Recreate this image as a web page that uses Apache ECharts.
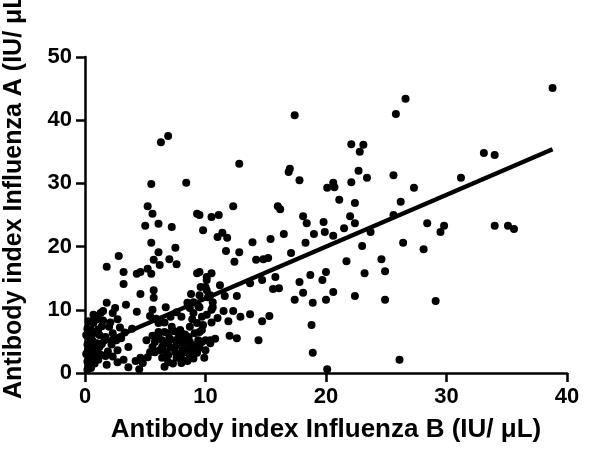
<!DOCTYPE html>
<html>
<head>
<meta charset="utf-8">
<script src="https://cdn.jsdelivr.net/npm/echarts@6/dist/echarts.min.js"></script>
<style>html,body{margin:0;padding:0;background:#fff}#c{width:600px;height:454px}</style>
</head>
<body>
<div id="c"></div>
<script>
// Antibody index Influenza B (x) vs Influenza A (y)
const pointsX = [
6.3,6.9,5.5,8.4,
17.4,12.8,22.1,23.1,22.8,17.0,16.9,17.8,22.7,23.4,20.1,20.6,20.7,22.1,21.1,22.4,12.3,16.0,16.2,
26.6,25.8,38.8,33.1,34.0,25.6,31.2,27.3,26.2,
25.6,23.7,28.4,29.8,29.5,34.0,35.1,35.6,26.4,28.1,24.6,24.9,24.9,29.1,26.1,
9.5,10.5,11.1,9.8,11.0,11.4,11.8,13.9,15.4,16.5,18.1,18.4,19.8,19.0,19.9,20.6,21.5,22.0,22.4,18.3,23.0,11.7,12.8,12.4,14.2,14.8,15.2,17.1,21.7,
9.5,10.1,10.5,23.2,20.0,18.7,19.7,17.8,15.8,13.7,14.7,15.6,16.1,11.2,10.0,12.6,11.6,10.4,10.6,17.4,18.1,20.0,20.6,22.4,18.9,9.5,10.1,11.5,12.3,11.0,11.9,12.9,13.7,14.7,15.3,9.8,9.5,10.0,10.4,10.8,12.0,12.6,14.4,18.8,18.9,20.1,
5.2,5.6,5.0,6.1,7.2,9.3,5.5,6.1,7.5,2.8,5.7,7.0,6.2,7.6,1.8,3.2,4.3,4.6,5.2,5.5,3.2,9.3,10.1,9.6,
4.6,5.7,5.7,6.7,4.3,5.4,1.8,1.5,0.8,2.3,2.7,0.7,1.4,2.0,0.7,1.2,1.7,2.3,1.0,0.4,0.2,0.4,0.4,0.2,0.8,0.6,2.7,3.6,1.8,2.7,3.2,3.6,4.2,4.6,4.8,4.5,5.6,5.8,6.1,6.6,7.2,5.2,5.8,6.4,6.9,7.5,8.1,8.6,9.1,9.7,6.4,6.9,7.5,8.1,8.6,9.1,9.7,6.9,7.6,8.1,8.7,9.3,7.6,8.1,8.7,6.1,7.9,8.7,9.3,9.7,9.0,8.7,9.0,9.5,10.1,8.5,5.6,5.1,1.2,1.1,1.7,
0.1,0.3,0.2,0.5,0.3,0.6,0.4,0.1,0.2,0.9,1.3,0.7,1.3,2.6,1.6,2.2,3.0,0.3,1.0,
8.8,5.6,6.1,7.1,8.0,10.2,10.5,10.5,10.4,6.9,8.0,6.4,9.4,8.0,10.0,10.6,
0.2,0.5,0.8,1.0,1.4,1.9,2.3,0.5,1.1,1.5,2.1,2.9,3.3,3.9,2.5,3.4,
5.4,6.2,6.7,7.1,7.9,8.4,8.9,9.5,7.3,8.5,9.0,6.6,9.9,7.8,8.3,7.0,7.4,8.9,6.6,7.6,5.9,9.4
];
const pointsY = [
36.5,37.5,29.9,30.1,
40.8,33.1,36.2,36.1,35.0,32.3,31.8,30.5,32.0,30.9,29.3,30.1,29.4,30.2,27.4,26.9,26.4,26.4,25.9,
43.4,41.0,45.1,34.8,34.5,31.3,30.9,29.3,27.1,
25.0,22.3,23.7,23.3,22.3,23.3,23.3,22.8,20.6,19.6,18.0,16.1,11.6,11.4,2.1,
25.0,24.7,25.0,22.6,21.5,22.2,21.4,20.7,21.2,22.0,24.8,23.7,23.9,22.0,22.3,21.7,22.9,24.8,23.7,20.6,20.1,19.3,19.1,17.6,17.9,18.0,18.2,19.0,17.7,
16.0,15.2,15.8,15.8,16.0,15.5,14.7,14.4,15.2,14.2,14.7,13.3,13.4,13.9,13.6,12.2,12.2,12.3,11.2,11.6,12.7,11.6,12.8,12.2,11.1,10.4,9.2,9.8,9.8,8.7,8.2,8.9,9.3,8.2,9.0,7.6,6.5,5.2,4.7,5.4,5.9,5.5,5.2,7.6,3.2,0.6,
26.4,25.2,23.3,23.6,23.1,25.2,20.6,19.1,19.8,18.5,17.9,18.0,17.1,17.2,16.8,16.0,15.7,16.0,16.5,15.7,14.1,15.8,14.7,13.6,
12.5,13.1,11.9,10.4,9.7,9.0,11.1,9.8,9.0,9.5,8.5,7.9,7.4,7.3,6.3,6.0,5.7,6.3,4.7,4.1,3.3,2.4,1.3,0.5,2.8,5.2,3.6,4.1,1.3,1.7,2.1,0.9,1.9,2.4,1.6,0.6,4.1,4.9,5.7,6.5,7.3,2.5,3.3,4.1,4.7,5.2,5.5,5.7,6.3,6.8,2.4,2.8,3.3,3.6,4.0,4.4,4.9,1.7,2.4,2.1,2.8,3.2,4.4,4.7,4.9,6.5,6.8,7.3,7.9,8.9,9.5,10.3,11.2,12.3,13.1,11.1,5.9,5.2,4.1,2.1,2.7,
3.0,2.0,4.5,3.8,1.0,1.8,5.5,6.0,7.0,3.2,2.9,9.2,9.5,5.2,5.2,4.5,5.5,8.2,8.5,
12.5,10.0,7.9,8.9,8.9,12.0,10.0,8.0,5.2,6.3,6.3,5.2,5.2,1.6,3.6,10.4,
1.8,0.8,1.5,3.6,4.6,3.4,2.6,6.8,6.9,8.3,8.0,7.2,6.4,7.0,10.3,10.8,
3.3,3.6,3.4,4.0,3.0,3.3,3.6,4.0,1.5,1.9,2.3,1.0,2.4,5.9,6.1,5.5,6.6,8.5,8.0,9.6,8.6,10.6
];
// Regression line end points
const fitX = [0, 38.8];
const fitY = [3.6, 35.4];
const xTicks = [0, 10, 20, 30, 40];
const yTicks = [0, 10, 20, 30, 40, 50];

const scatterData = pointsX.map((x, i) => [x, pointsY[i]]);
const lineData = fitX.map((x, i) => [x, fitY[i]]);

const FONT = 'Liberation Sans, Arial, sans-serif';
const axisCommon = {
  axisLine: {show: true, onZero: false, lineStyle: {color: '#000', width: 2.5}},
  axisTick: {show: true, inside: false, length: 9, lineStyle: {color: '#000', width: 2.5}},
  splitLine: {show: false},
  axisLabel: {color: '#000', fontFamily: FONT, fontWeight: 'bold', fontSize: 22}
};

const chart = echarts.init(document.getElementById('c'), null, {renderer: 'canvas'});
chart.setOption({
  animation: false,
  backgroundColor: '#fff',
  grid: {left: 85, right: 33, top: 57, bottom: 81, containLabel: false, outerBoundsMode: 'none'},
  xAxis: Object.assign({}, axisCommon, {
    type: 'value', min: xTicks[0], max: xTicks[xTicks.length - 1], interval: 10,
    name: 'Antibody index Influenza B (IU/ μL)', nameLocation: 'middle', nameGap: 44,
    nameTextStyle: {color: '#000', fontFamily: FONT, fontWeight: 'bold', fontSize: 26},
    axisLabel: Object.assign({}, axisCommon.axisLabel, {margin: 13})
  }),
  yAxis: Object.assign({}, axisCommon, {
    type: 'value', min: yTicks[0], max: yTicks[yTicks.length - 1], interval: 10,
    name: 'Antibody index Influenza A (IU/ μL)', nameLocation: 'middle', nameGap: 58,
    nameTextStyle: {color: '#000', fontFamily: FONT, fontWeight: 'bold', fontSize: 25, padding: [0, 0, 0, 46]},
    axisLabel: Object.assign({}, axisCommon.axisLabel, {margin: 13})
  }),
  series: [
    {type: 'scatter', data: scatterData, symbol: 'circle', symbolSize: 8, itemStyle: {color: '#000', opacity: 1}, z: 2},
    {type: 'line', data: lineData, showSymbol: false, symbol: 'none', lineStyle: {color: '#000', width: 4.5}, z: 3}
  ]
});
</script>
</body>
</html>
